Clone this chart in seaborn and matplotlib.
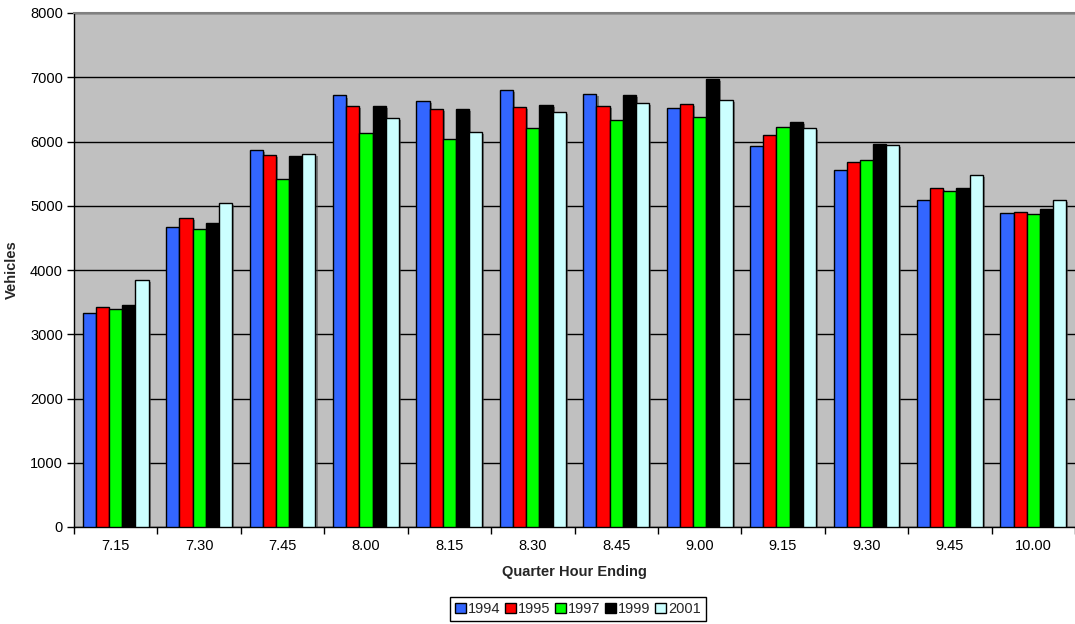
import matplotlib
matplotlib.use("Agg")
import matplotlib.pyplot as plt
import matplotlib.patheffects as pe
from matplotlib.ticker import FixedLocator, NullFormatter
import numpy as np
import pandas as pd
import seaborn as sns

# Traffic counts per quarter hour, by survey year
quarters = ["7.15", "7.30", "7.45", "8.00", "8.15", "8.30",
            "8.45", "9.00", "9.15", "9.30", "9.45", "10.00"]
years = ["1994", "1995", "1997", "1999", "2001"]
v1994 = [3326, 4665, 5872, 6716, 6630, 6797, 6735, 6516, 5926, 5556, 5084, 4882]
v1995 = [3419, 4814, 5790, 6560, 6511, 6532, 6547, 6589, 6096, 5676, 5271, 4898]
v1997 = [3388, 4638, 5416, 6140, 6034, 6205, 6330, 6376, 6231, 5707, 5235, 4877]
v1999 = [3455, 4737, 5774, 6550, 6501, 6568, 6724, 6973, 6298, 5961, 5271, 4955]
v2001 = [3840, 5038, 5805, 6361, 6143, 6454, 6599, 6641, 6205, 5941, 5473, 5084]
colors = ["#3366FF", "#FF0000", "#00FF00", "#000000", "#CCFFFF"]

series = [v1994, v1995, v1997, v1999, v2001]
df = pd.DataFrame({
    "Quarter": quarters * len(years),
    "Year": np.repeat(years, len(quarters)),
    "Vehicles": np.concatenate(series),
})

sns.set_theme(style="white")
plt.rcParams["font.family"] = ["Liberation Sans", "DejaVu Sans"]

fig = plt.figure(figsize=(10.75, 6.24), dpi=100)
ax = fig.add_axes([74 / 1075, 1 - 527 / 624, 1 - 74 / 1075, (527 - 13) / 624])
ax.set_facecolor("#C0C0C0")

sns.barplot(data=df, x="Quarter", y="Vehicles", hue="Year", order=quarters,
            hue_order=years, palette=colors, width=0.79, saturation=1,
            edgecolor="black", linewidth=1.0, ax=ax, legend=True, zorder=3)

shadow = [pe.SimplePatchShadow(offset=(1.5, -1.5), shadow_rgbFace="#404040", alpha=0.55),
          pe.Normal()]
for p in ax.patches:
    p.set_path_effects(shadow)

ax.set_ylim(0, 8000)
ax.set_xlim(-0.5, len(quarters) - 0.5)
ax.set_yticks(np.arange(0, 8001, 1000))
ax.yaxis.grid(True, color="black", linewidth=1.0, zorder=1)
ax.set_axisbelow(True)

# Category labels centred, tick marks on the boundaries between groups
ax.xaxis.set_major_locator(FixedLocator(np.arange(len(quarters))))
ax.set_xticklabels(quarters)
ax.xaxis.set_minor_locator(FixedLocator(np.arange(len(quarters) + 1) - 0.5))
ax.xaxis.set_minor_formatter(NullFormatter())
ax.tick_params(axis="x", which="major", length=0, pad=9, labelsize=10.5, colors="black")
ax.tick_params(axis="x", which="minor", length=5, width=1, color="black", direction="out",
               bottom=True)
ax.tick_params(axis="y", length=5, width=1, color="black", direction="out", left=True,
               labelsize=10.5, pad=3, labelcolor="black")

for side in ["left", "bottom"]:
    ax.spines[side].set_color("black")
    ax.spines[side].set_linewidth(1.0)
ax.spines["top"].set_color("#808080")
ax.spines["top"].set_linewidth(1.5)
ax.spines["right"].set_visible(False)

ax.set_xlabel("Quarter Hour Ending", fontsize=10.5, fontweight="bold", labelpad=8)
ax.set_ylabel("Vehicles", fontsize=10.5, fontweight="bold", labelpad=8)

handles, labels = ax.get_legend_handles_labels()
ax.legend_.remove()
leg = fig.legend(handles, labels, loc="lower center", bbox_to_anchor=(578 / 1075, 0.002),
                 ncol=5, frameon=True, fancybox=False, framealpha=1, edgecolor="black",
                 fontsize=10.5, handlelength=0.75, handleheight=0.75, handletextpad=0.15,
                 columnspacing=0.3, borderpad=0.35, borderaxespad=0.1)
leg.get_frame().set_linewidth(1.0)
for h in leg.legend_handles:
    h.set_path_effects([])

fig.savefig("out.png", dpi=100)
